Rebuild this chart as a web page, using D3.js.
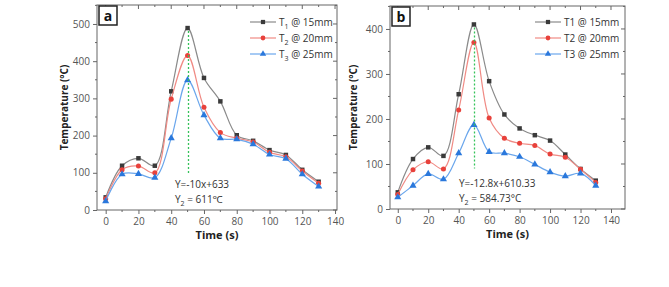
<!DOCTYPE html>
<html>
<head>
<meta charset="utf-8">
<script src="https://cdn.jsdelivr.net/npm/d3@7"></script>
<style>
  body { margin: 0; background: #fff; }
  svg { display: block; font-family: "Open Sans", "Noto Sans", sans-serif; }
</style>
</head>
<body>
<svg id="chart" width="669" height="287"></svg>
<script>
// time points (s)
const times = [0, 10, 20, 30, 40, 50, 60, 70, 80, 90, 100, 110, 120, 130];

// panel a temperatures (°C)
const aT1 = [34, 119, 139, 119, 319, 489, 355, 292, 201, 186, 161, 148, 108, 76];
const aT2 = [30, 108, 118, 100, 298, 415, 276, 208, 193, 183, 155, 143, 105, 72];
const aT3 = [24, 96, 97, 87, 193, 349, 255, 193, 190, 177, 149, 138, 96, 63];

// panel b temperatures (°C)
const bT1 = [37, 111, 137, 118, 255, 410, 284, 210, 179, 164, 152, 121, 89, 63];
const bT2 = [32, 87, 105, 89, 220, 370, 202, 157, 146, 141, 122, 115, 88, 59];
const bT3 = [26, 52, 78, 66, 124, 187, 127, 124, 116, 99, 82, 73, 79, 52];

const xTicks = [0, 20, 40, 60, 80, 100, 120, 140];
const aLegend = ["T|1| @ 15mm", "T|2| @ 20mm", "T|3| @ 25mm"];
const bLegend = ["T1 @ 15mm", "T2 @ 20mm", "T3 @ 25mm"];
const aEquation = ["Y=-10x+633", "Y|2| = 611℃"];
const bEquation = ["Y=-12.8x+610.33", "Y|2| = 584.73°C"];

const styles = [
  { line: "#8a8a8a", mark: "#3a3a3a", shape: d3.symbolSquare },
  { line: "#f08a84", mark: "#e8413b", shape: d3.symbolCircle },
  { line: "#6aa6ec", mark: "#2a78dc", shape: d3.symbolTriangle }
];

const svg = d3.select("#chart");

// writes "T|1| @..." as text with a subscript part
function richText(sel, str) {
  const parts = str.split("|");
  parts.forEach((p, i) => {
    const t = sel.append("tspan").text(p);
    if (i % 2 === 1) t.attr("font-size", "0.7em").attr("dy", 3);
    else if (i > 0) t.attr("dy", -3);
  });
}

function drawPanel(p) {
  const x = d3.scaleLinear().domain(p.xDomain).range([p.left, p.right]);
  const y = d3.scaleLinear().domain(p.yDomain).range([p.bottom, p.top]);
  const g = svg.append("g");

  // frame
  g.append("rect")
    .attr("x", p.left).attr("y", p.top)
    .attr("width", p.right - p.left).attr("height", p.bottom - p.top)
    .attr("fill", "none").attr("stroke", "#666").attr("stroke-width", 1);

  // bottom axis
  const xAxis = g.append("g")
    .attr("transform", `translate(0,${p.bottom})`)
    .call(d3.axisBottom(x).tickValues(xTicks).tickSize(4).tickPadding(4));
  xAxis.selectAll("line").attr("stroke", "#666");
  xAxis.select(".domain").remove();
  xAxis.selectAll("text").attr("font-size", 10).attr("fill", "#555")
    .attr("font-family", "Open Sans, sans-serif");
  // minor x ticks
  g.append("g").selectAll("line")
    .data(d3.range(10, 140, 20))
    .join("line")
    .attr("x1", d => x(d)).attr("x2", d => x(d))
    .attr("y1", p.bottom).attr("y2", p.bottom + 2)
    .attr("stroke", "#666");

  // top mirrored ticks
  g.append("g").selectAll("line")
    .data(d3.range(0, 141, 10))
    .join("line")
    .attr("x1", d => x(d)).attr("x2", d => x(d))
    .attr("y1", p.top).attr("y2", d => p.top + (d % 20 === 0 ? 4 : 2))
    .attr("stroke", "#666");

  // left axis
  const yAxis = g.append("g")
    .attr("transform", `translate(${p.left},0)`)
    .call(d3.axisLeft(y).tickValues(p.yTicks).tickSize(4).tickPadding(3));
  yAxis.select(".domain").remove();
  yAxis.selectAll("line").attr("stroke", "#666");
  yAxis.selectAll("text").attr("font-size", 10).attr("fill", "#555")
    .attr("font-family", "Open Sans, sans-serif");
  const minorY = d3.range(50, p.yDomain[1], 100);
  g.append("g").selectAll("line")
    .data(minorY)
    .join("line")
    .attr("x1", p.left - 2).attr("x2", p.left)
    .attr("y1", d => y(d)).attr("y2", d => y(d))
    .attr("stroke", "#666");

  // right mirrored ticks
  g.append("g").selectAll("line")
    .data(p.yTicks.concat(minorY))
    .join("line")
    .attr("x1", p.right).attr("x2", d => p.right - (d % 100 === 0 ? 4 : 2))
    .attr("y1", d => y(d)).attr("y2", d => y(d))
    .attr("stroke", "#666");

  // axis titles
  g.append("text")
    .attr("transform", `translate(${p.yTitleX},${(p.top + p.bottom) / 2}) rotate(-90)`)
    .attr("text-anchor", "middle")
    .attr("font-size", 10).attr("font-weight", "bold").attr("fill", "#222")
    .text("Temperature (°C)");
  g.append("text")
    .attr("x", (p.left + p.right) / 2).attr("y", p.bottom + 29)
    .attr("text-anchor", "middle")
    .attr("font-size", 11).attr("font-weight", "bold").attr("fill", "#222")
    .text("Time (s)");

  // panel letter box
  g.append("rect")
    .attr("x", p.left + 2).attr("y", p.top + 1)
    .attr("width", 18).attr("height", 19)
    .attr("fill", "#fff").attr("stroke", "#222").attr("stroke-width", 1.5);
  g.append("text")
    .attr("x", p.left + 11).attr("y", p.top + 16)
    .attr("text-anchor", "middle")
    .attr("font-size", 14).attr("font-weight", "bold").attr("fill", "#111")
    .text(p.letter);

  // series lines and markers
  const line = d3.line()
    .x((d, i) => x(times[i]))
    .y(d => y(d))
    .curve(d3.curveCatmullRom.alpha(0.5));

  p.series.forEach((vals, k) => {
    const s = styles[k];
    g.append("path")
      .attr("d", line(vals))
      .attr("fill", "none").attr("stroke", s.line).attr("stroke-width", 1.2);
    g.append("g").selectAll("path")
      .data(vals)
      .join("path")
      .attr("transform", (d, i) => `translate(${x(times[i])},${y(d)})`)
      .attr("d", d3.symbol().type(s.shape).size(k === 2 ? 22 : 20))
      .attr("fill", s.mark);
  });

  // green dashed guide at the peak, drawn on top of the curves
  const gx = Math.round(x(50)) + 0.5;
  g.append("line")
    .attr("x1", gx).attr("x2", gx)
    .attr("y1", y(p.series[0][5]) + 3).attr("y2", y(p.guideEnd))
    .attr("stroke", "#35c35a").attr("stroke-width", 1.3)
    .attr("stroke-dasharray", "2,2");

  // legend
  p.legend.forEach((label, k) => {
    const s = styles[k];
    const ly = p.legendY + k * 16;
    g.append("line")
      .attr("x1", p.legendX).attr("x2", p.legendX + 26)
      .attr("y1", ly).attr("y2", ly)
      .attr("stroke", s.line).attr("stroke-width", 1.2);
    g.append("path")
      .attr("transform", `translate(${p.legendX + 13},${ly})`)
      .attr("d", d3.symbol().type(s.shape).size(18))
      .attr("fill", s.mark);
    const t = g.append("text")
      .attr("x", p.legendX + 29).attr("y", ly + 3.5)
      .attr("font-size", 10).attr("fill", "#333");
    richText(t, label);
  });

  // equation text
  p.equation.forEach((str, k) => {
    const t = g.append("text")
      .attr("x", p.eqX).attr("y", p.eqY + k * 15)
      .attr("font-size", 10).attr("fill", "#333");
    richText(t, str);
  });
}

drawPanel({
  letter: "a",
  left: 97, right: 337, top: 5, bottom: 210,
  xDomain: [-5.3, 141.2], yDomain: [0, 551],
  yTicks: [0, 100, 200, 300, 400, 500],
  series: [aT1, aT2, aT3],
  guideEnd: 95,
  legend: aLegend, legendX: 250, legendY: 22,
  equation: aEquation, eqX: 175, eqY: 188,
  yTitleX: 68
});

drawPanel({
  letter: "b",
  left: 390, right: 625, top: 6, bottom: 209,
  xDomain: [-5.1, 149.2], yDomain: [0, 451],
  yTicks: [0, 100, 200, 300, 400],
  series: [bT1, bT2, bT3],
  guideEnd: 90,
  legend: bLegend, legendX: 535, legendY: 22,
  equation: bEquation, eqX: 459, eqY: 187,
  yTitleX: 357
});
</script>
</body>
</html>
